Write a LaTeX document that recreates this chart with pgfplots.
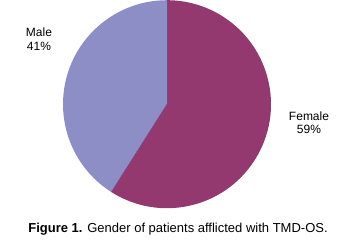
\documentclass[border=0pt]{standalone}
\usepackage{pgfplots}
\pgfplotsset{compat=1.18}
\usepackage{fontspec}
\setmainfont{Liberation Sans}
\definecolor{malec}{RGB}{142,142,198}
\definecolor{femalec}{RGB}{148,56,112}
\definecolor{edgec}{RGB}{100,80,140}
\begin{document}
\begin{tikzpicture}
\def\male{41}
\def\female{59}
\pgfmathsetmacro{\mend}{90+3.6*\male}
\begin{axis}[
  scale only axis, width=348bp, height=243bp,
  xmin=0, xmax=348, ymin=0, ymax=243, y dir=reverse,
  hide axis, clip=false,
]
\path (axis cs:0,0) rectangle (axis cs:348,243);
\fill[malec] (axis cs:167,104) -- ++(90:104bp) arc[start angle=90, end angle=\mend, radius=104bp] -- cycle;
\fill[femalec] (axis cs:167,104) -- ++(\mend:104bp) arc[start angle=\mend, end angle=450, radius=104bp] -- cycle;
\draw[edgec, line width=0.4bp] (axis cs:167,104) -- ++(90:104bp);
\draw[edgec, line width=0.4bp] (axis cs:167,104) -- ++(\mend:104bp);
\begin{scope}[every node/.style={inner sep=0pt, font=\fontsize{12bp}{14bp}\selectfont}]
\node[anchor=base] at (axis cs:39,36.7) {Male};
\node[anchor=base] at (axis cs:39,50.3) {\male\%};
\node[anchor=base] at (axis cs:309,120) {Female};
\node[anchor=base] at (axis cs:309,133.6) {\female\%};
\node[anchor=base, font=\fontsize{13bp}{15bp}\selectfont] at (axis cs:178,232) {\textbf{Figure 1.} Gender of patients afflicted with TMD-OS.};
\end{scope}
\end{axis}
\end{tikzpicture}
\end{document}
